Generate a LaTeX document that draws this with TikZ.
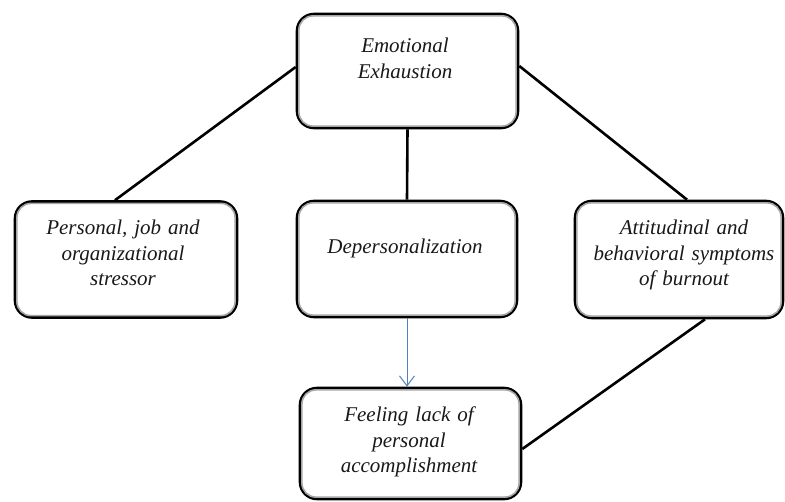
\documentclass[tikz,border=0pt]{standalone}
\usepackage{fontspec}
\setmainfont{Liberation Serif}
\usetikzlibrary{arrows.meta,calc}
\tikzset{
  box/.style={draw=black, line width=2.6pt, rounded corners=17pt, fill=white, inner sep=0pt},
  inbox/.style={draw=black!35, line width=1.6pt, rounded corners=14pt},
  lbl/.style={font=\itshape\fontsize{21}{25.5}\selectfont, text=black!90, align=center, text width=215pt, anchor=base, inner sep=0pt},
  conn/.style={draw=black, line width=2.6pt},
  flow/.style={draw={rgb,255:red,79;green,129;blue,189}, line width=1pt, -{Straight Barb[length=10pt,width=15pt,line width=1pt]}}
}
\begin{document}
\begin{tikzpicture}[x=1pt,y=-1pt]
\useasboundingbox (0,0) rectangle (785,502);
% boxes
\node[box, minimum width=221pt, minimum height=114pt] (EE) at (407.5,71) {};
\node[box, minimum width=222pt, minimum height=116pt] (PJ) at (126,259.5) {};
\node[box, minimum width=220pt, minimum height=116pt] (DP) at (407,259) {};
\node[box, minimum width=208pt, minimum height=117pt] (AB) at (679,259.5) {};
\node[box, minimum width=221pt, minimum height=111pt] (FL) at (410.5,443.5) {};
\foreach \n in {EE,PJ,DP,AB,FL}{
  \draw[inbox] ($(\n.south west)+(3.2,-3.2)$) rectangle ($(\n.north east)+(-3.2,3.2)$);
}
% texts
\node[lbl] (EEt) at (405,53) {Emotional\\Exhaustion};
\node[lbl] (PJt) at (123,235) {Personal, job and\\organizational\\stressor};
\node[lbl] (DPt) at (405,254) {Depersonalization};
\node[lbl] (ABt) at (684,235) {Attitudinal and\\behavioral symptoms\\of burnout};
\node[lbl] (FLt) at (409,422) {Feeling lack of\\personal\\accomplishment};
% connectors
\draw[conn] ([yshift=4pt]EE.west) -- ([xshift=-11pt]PJ.north);
\draw[conn] (EE.south) -- (DP.north);
\draw[conn] ([yshift=5pt]EE.east) -- ([xshift=8pt]AB.north);
\draw[conn] ([xshift=26pt]AB.south) -- ([yshift=-5.5pt]FL.east);
\draw[flow] (DP.south) -- (DP.south |- FL.north);
\end{tikzpicture}
\end{document}
